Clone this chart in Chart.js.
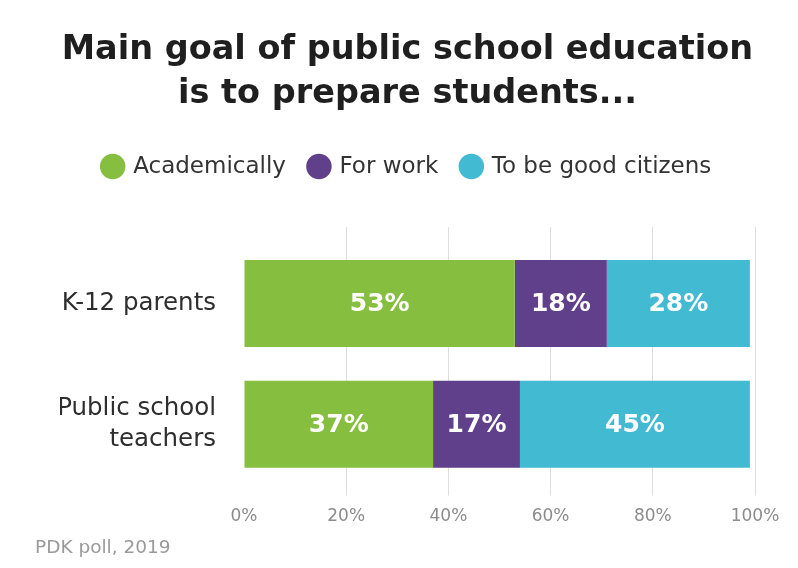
<!DOCTYPE html>
<html>
<head>
<meta charset="utf-8">
<script src="https://cdn.jsdelivr.net/npm/chart.js@4"></script>
<style>
  body { margin: 0; background: #fff; }
  #wrap { width: 798px; height: 568px; }
</style>
</head>
<body>
<div id="wrap"><canvas id="goalChart"></canvas></div>
<script>
// data
const groups = ["K-12 parents", ["Public school", "teachers"]];
const academically = [53, 37];
const forWork = [18, 17];
const goodCitizens = [28, 45];
const tickValues = [0, 20, 40, 60, 80, 100];

const FONT = "'DejaVu Sans', sans-serif";

// white % labels inside each segment
const segmentLabels = {
  id: "segmentLabels",
  afterDatasetsDraw(chart) {
    const ctx = chart.ctx;
    ctx.save();
    ctx.fillStyle = "#fff";
    ctx.font = "bold 25px " + FONT;
    ctx.textAlign = "center";
    ctx.textBaseline = "middle";
    chart.data.datasets.forEach(function (ds, i) {
      chart.getDatasetMeta(i).data.forEach(function (bar, j) {
        ctx.fillText(ds.data[j] + "%", (bar.x + bar.base) / 2, bar.y + 1);
      });
    });
    ctx.restore();
  },
};

// source line bottom left
const sourceNote = {
  id: "sourceNote",
  afterDraw(chart) {
    const ctx = chart.ctx;
    ctx.save();
    ctx.fillStyle = "#9a9a9a";
    ctx.font = "18.5px " + FONT;
    ctx.textBaseline = "middle";
    ctx.fillText("PDK poll, 2019", 35, 548);
    ctx.restore();
  },
};

const gridColor = function (c) {
  return c.tick && c.tick.value === 0 ? "rgba(0,0,0,0)" : "#dedede";
};

new Chart(document.getElementById("goalChart"), {
  type: "bar",
  data: {
    labels: groups,
    datasets: [
      { label: "Academically", data: academically, backgroundColor: "#86bf40" },
      { label: "For work", data: forWork, backgroundColor: "#60408a" },
      { label: "To be good citizens", data: goodCitizens, backgroundColor: "#41bad2" },
    ],
  },
  options: {
    indexAxis: "y",
    responsive: true,
    maintainAspectRatio: false,
    animation: false,
    layout: { padding: { left: 60, right: 43, top: 0, bottom: 30 } },
    datasets: {
      bar: { categoryPercentage: 1, barPercentage: 0.72, borderWidth: 0 },
    },
    scales: {
      x: {
        stacked: true,
        min: 0,
        max: 100,
        afterBuildTicks: function (scale) {
          scale.ticks = tickValues.map(function (v) { return { value: v }; });
        },
        border: { display: false },
        grid: { color: gridColor, tickColor: gridColor, tickLength: 11, lineWidth: 1 },
        ticks: {
          color: "#8c8c8c",
          padding: 11,
          font: { family: FONT, size: 17 },
          callback: function (v) { return v + "%"; },
        },
      },
      x2: {
        position: "top",
        axis: "x",
        min: 0,
        max: 100,
        afterBuildTicks: function (scale) {
          scale.ticks = tickValues.map(function (v) { return { value: v }; });
        },
        afterFit: function (scale) { scale.height = 55; },
        border: { display: false },
        grid: { drawOnChartArea: false, tickColor: gridColor, tickLength: 16 },
        ticks: { display: false },
      },
      y: {
        stacked: true,
        afterFit: function (scale) { scale.width = 184; },
        border: { display: false },
        grid: { display: false, drawTicks: false },
        ticks: {
          color: "#2e2e2e",
          padding: 28,
          font: { family: FONT, size: 24.5, lineHeight: 1.27 },
        },
      },
    },
    plugins: {
      title: {
        display: true,
        text: ["Main goal of public school education", "is to prepare students..."],
        color: "#1f1f1f",
        font: { family: FONT, size: 33.5, weight: "bold", lineHeight: 1.3 },
        padding: { top: 29, bottom: 15 },
      },
      legend: {
        position: "top",
        labels: {
          usePointStyle: true,
          pointStyle: "circle",
          boxWidth: 18,
          boxHeight: 18,
          padding: 24,
          color: "#333",
          font: { family: FONT, size: 23 },
        },
      },
      tooltip: { enabled: false },
    },
  },
  plugins: [segmentLabels, sourceNote],
});
</script>
</body>
</html>
